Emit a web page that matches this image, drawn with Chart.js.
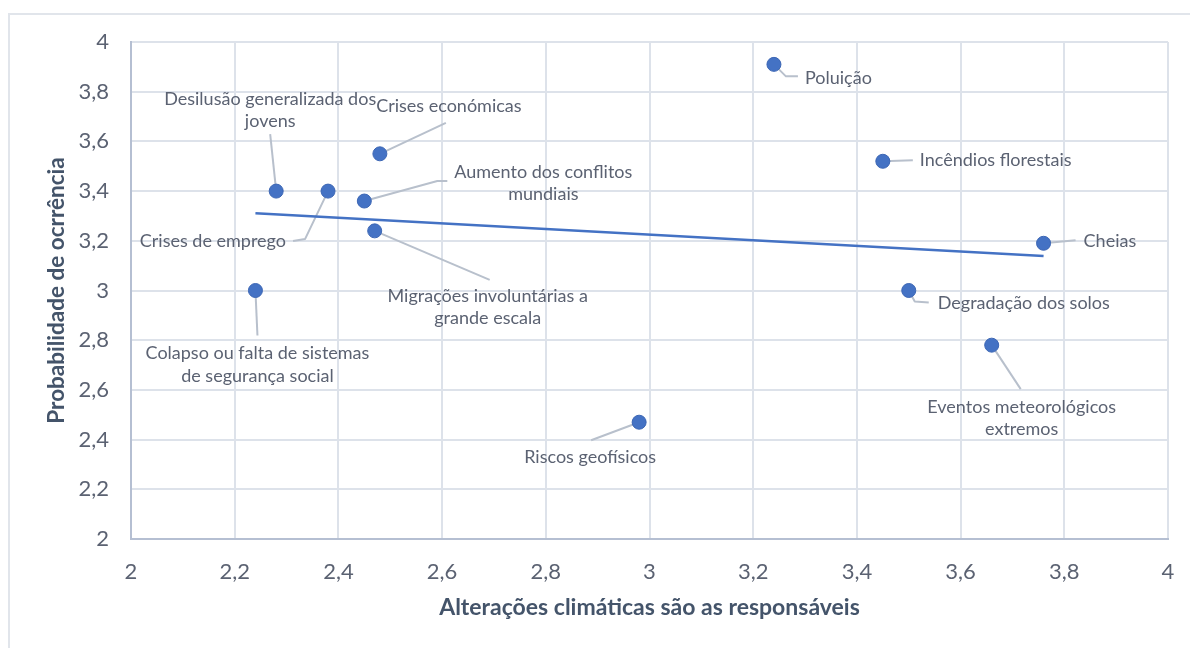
<!DOCTYPE html>
<html lang="pt">
<head>
<meta charset="utf-8">
<title>Riscos: probabilidade vs. alterações climáticas</title>
<script src="https://cdn.jsdelivr.net/npm/chart.js@4.4.1/dist/chart.umd.min.js"></script>
<style>
  html, body { margin: 0; padding: 0; background: #ffffff; overflow: hidden; }
  #wrap { position: relative; width: 1190px; height: 648px; }
  #frame { position: absolute; left: 8px; top: 13px; width: 1200px; height: 700px;
           border: 2px solid #e1e5eb; box-sizing: border-box; }
  #c { position: absolute; left: 0; top: 0; }
</style>
</head>
<body>
<div id="wrap">
  <div id="frame"></div>
  <canvas id="c" width="1190" height="648"></canvas>
</div>
<script>
// Riscos avaliados: ligação às alterações climáticas (x) e probabilidade de ocorrência (y)
const categories = [
  'Poluição',
  'Incêndios florestais',
  'Cheias',
  'Degradação dos solos',
  'Eventos meteorológicos\nextremos',
  'Riscos geofísicos',
  'Colapso ou falta de sistemas\nde segurança social',
  'Migrações involuntárias a\ngrande escala',
  'Crises de emprego',
  'Aumento dos conflitos\nmundiais',
  'Crises económicas',
  'Desilusão generalizada dos\njovens'
];
const alteracoesClimaticas = [3.24, 3.45, 3.76, 3.50, 3.66, 2.98, 2.24, 2.47, 2.38, 2.45, 2.48, 2.28];
const probabilidade        = [3.91, 3.52, 3.19, 3.00, 2.78, 2.47, 3.00, 3.24, 3.40, 3.36, 3.55, 3.40];

const xTitle = 'Alterações climáticas são as responsáveis';
const yTitle = 'Probabilidade de ocrrência';

// Placement of each data label: leader path and text anchor, in pixels from its marker
const labelLayout = [
  { leader: [[0, 0], [12, 12], [24, 12]], at: [31, 14], align: 'left' },
  { leader: [[0, 0], [30, -1]], at: [37, -1], align: 'left' },
  { leader: [[0, 0], [32, -3]], at: [40, -2], align: 'left' },
  { leader: [[0, 0], [6, 11], [20, 12]], at: [29, 13], align: 'left' },
  { leader: [[0, 0], [29, 44]], at: [30, 62], align: 'center' },
  { leader: [[0, 0], [-48, 18]], at: [-49, 35], align: 'center' },
  { leader: [[0, 0], [2, 45]], at: [2, 63], align: 'center' },
  { leader: [[0, 0], [115, 49]], at: [113, 65], align: 'center' },
  { leader: [[0, 0], [-23, 48], [-35, 50]], at: [-42, 50], align: 'right' },
  { leader: [[0, 0], [73, -20], [83, -20]], at: [179, -29], align: 'center' },
  { leader: [[0, 0], [66, -31]], at: [69, -48], align: 'center' },
  { leader: [[0, 0], [-6, -57]], at: [-6, -92], align: 'center' }
];

const points = alteracoesClimaticas.map((x, i) => ({ x, y: probabilidade[i] }));

// Least-squares linear trend across the plotted risks
function linearTrend(xs, ys) {
  const n = xs.length;
  const mx = xs.reduce((a, b) => a + b, 0) / n;
  const my = ys.reduce((a, b) => a + b, 0) / n;
  let sxy = 0, sxx = 0;
  for (let i = 0; i < n; i++) {
    sxy += (xs[i] - mx) * (ys[i] - my);
    sxx += (xs[i] - mx) * (xs[i] - mx);
  }
  const slope = sxy / sxx;
  const x0 = Math.min(...xs), x1 = Math.max(...xs);
  return [{ x: x0, y: my + slope * (x0 - mx) }, { x: x1, y: my + slope * (x1 - mx) }];
}
const trend = linearTrend(alteracoesClimaticas, probabilidade);

const FONT = 'Lato, "Open Sans", sans-serif';
const comma = v => String(Math.round(v * 10) / 10).replace('.', ',');

const dataLabels = {
  id: 'dataLabels',
  beforeDatasetsDraw(chart) {
    const meta = chart.getDatasetMeta(0);
    const ctx = chart.ctx;
    ctx.save();
    ctx.strokeStyle = '#b8c0cc';
    ctx.lineWidth = 2;
    ctx.lineJoin = 'round';
    meta.data.forEach((pt, i) => {
      const path = labelLayout[i].leader;
      ctx.beginPath();
      path.forEach(([dx, dy], k) => {
        if (k === 0) ctx.moveTo(pt.x + dx, pt.y + dy);
        else ctx.lineTo(pt.x + dx, pt.y + dy);
      });
      ctx.stroke();
    });
    ctx.restore();
  },
  afterDatasetsDraw(chart) {
    const meta = chart.getDatasetMeta(0);
    const ctx = chart.ctx;
    ctx.save();
    ctx.font = '18px ' + FONT;
    ctx.fillStyle = '#5b6272';
    ctx.textBaseline = 'middle';
    meta.data.forEach((pt, i) => {
      const lay = labelLayout[i];
      ctx.textAlign = lay.align;
      categories[i].split('\n').forEach((line, k) => {
        ctx.fillText(line, pt.x + lay.at[0], pt.y + lay.at[1] + k * 22.5);
      });
    });
    ctx.restore();
  }
};

new Chart(document.getElementById('c'), {
  type: 'scatter',
  data: {
    datasets: [
      {
        label: 'Riscos',
        data: points,
        backgroundColor: '#4472c4',
        borderColor: '#3c66b4',
        borderWidth: 1,
        pointRadius: 7,
        order: 1
      },
      {
        label: 'Tendência linear',
        data: trend,
        showLine: true,
        borderColor: '#4472c4',
        borderWidth: 2.5,
        pointRadius: 0,
        fill: false,
        order: 2
      }
    ]
  },
  options: {
    responsive: false,
    devicePixelRatio: 1,
    animation: false,
    layout: { padding: { left: 0, top: 42, right: 22, bottom: 0 } },
    plugins: { legend: { display: false }, tooltip: { enabled: false } },
    scales: {
      x: {
        type: 'linear',
        min: 2, max: 4,
        // label gap comes from an invisible tick mark so the end label keeps the plot width
        ticks: { stepSize: 0.2, padding: 0, color: '#5b6272', font: { family: FONT, size: 22 }, callback: comma },
        grid: { color: '#dde2ea', lineWidth: 2, drawTicks: true, tickLength: 20, tickColor: 'rgba(0,0,0,0)' },
        border: { color: '#b5bfd2', width: 2 },
        title: { display: true, text: xTitle, color: '#44546a', padding: { top: 0, bottom: 27 },
                 font: { family: FONT, size: 23, weight: 'bold' } },
        afterFit(scale) { scale.height = 109; }
      },
      y: {
        type: 'linear',
        min: 2, max: 4,
        ticks: { stepSize: 0.2, padding: 22, color: '#5b6272', font: { family: FONT, size: 22 }, callback: comma },
        grid: { color: '#dde2ea', lineWidth: 2, drawTicks: false },
        border: { color: '#b5bfd2', width: 2 },
        title: { display: true, text: yTitle, color: '#44546a', padding: { top: 43.5, bottom: 0 },
                 font: { family: FONT, size: 22.5, weight: 'bold' } },
        afterFit(scale) { scale.width = 131; }
      }
    }
  },
  plugins: [dataLabels]
});
</script>
</body>
</html>
